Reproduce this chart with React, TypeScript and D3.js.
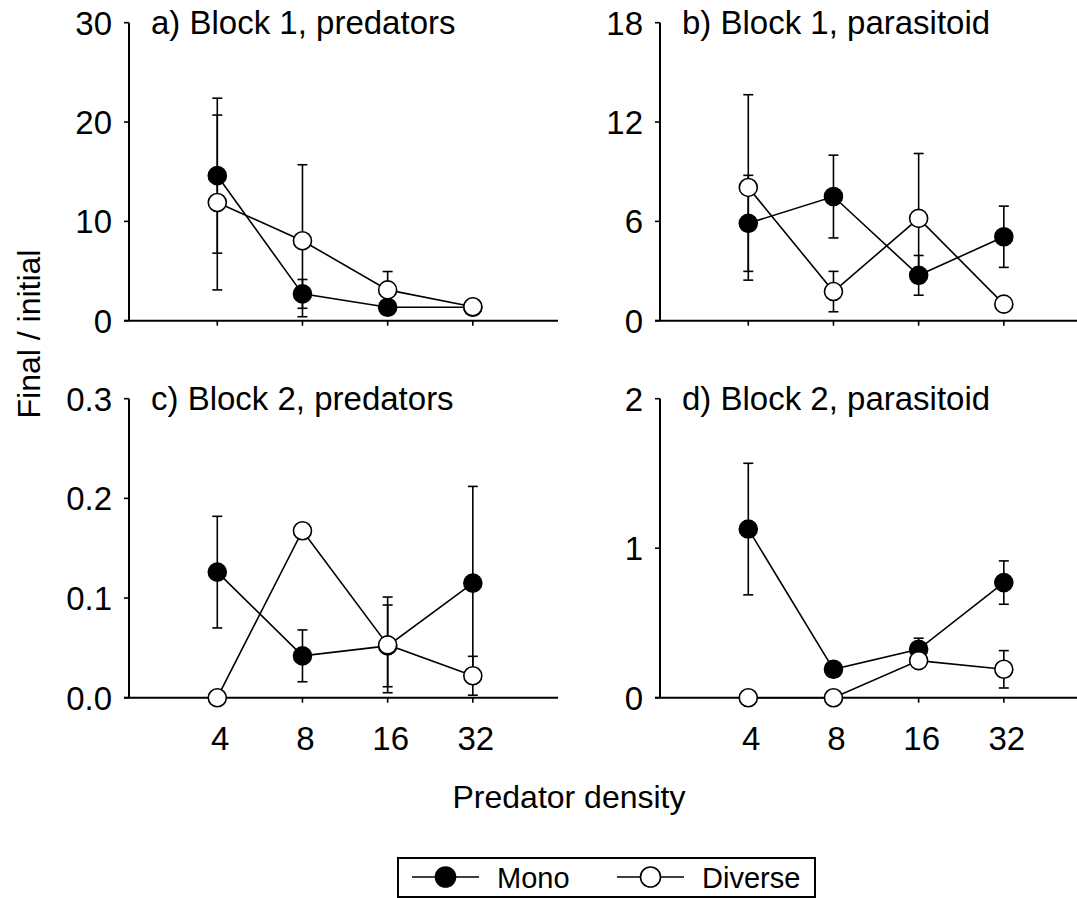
import * as d3 from 'd3';
import React from 'react';

// predator densities on the x axis (log2 spacing)
const densities = [4, 8, 16, 32];
const densityTicks = ['4', '8', '16', '32'];

// panel titles and y ticks
const panelTitles = ['a) Block 1, predators', 'b) Block 1, parasitoid', 'c) Block 2, predators', 'd) Block 2, parasitoid'];
const yTicksA = [0, 10, 20, 30];
const yTicksB = [0, 6, 12, 18];
const yTicksC = [0, 0.1, 0.2, 0.3];
const yTicksD = [0, 1, 2];

// means and standard errors
const monoA = [14.6, 2.7, 1.35, 1.35];
const monoSeA = [7.8, 1.45, 0.3, 0.3];
const diverseA = [11.9, 8.05, 3.1, 1.4];
const diverseSeA = [8.8, 7.65, 1.85, 0.2];

const monoB = [5.88, 7.5, 2.74, 5.07];
const monoSeB = [2.9, 2.5, 1.2, 1.85];
const diverseB = [8.05, 1.76, 6.18, 1.0];
const diverseSeB = [5.6, 1.22, 3.92, 0.2];

const monoC = [0.126, 0.042, 0.052, 0.115];
const monoSeC = [0.056, 0.026, 0.041, 0.097];
const diverseC = [0.0, 0.1675, 0.053, 0.022];
const diverseSeC = [0, 0, 0.048, 0.0195];

const monoD = [1.128, 0.19, 0.324, 0.77];
const monoSeD = [0.44, 0.03, 0.074, 0.145];
const diverseD = [0, 0, 0.248, 0.19];
const diverseSeD = [0, 0, 0.03, 0.125];

const seriesNames = ['Mono', 'Diverse'];

const font = "'Liberation Sans', Arial, sans-serif";

type PanelProps = {
  left: number;
  top: number;
  bottom: number;
  title: string;
  ticks: number[];
  fmt: (v: number) => string;
  mono: number[];
  monoSe: number[];
  diverse: number[];
  diverseSe: number[];
  showX: boolean;
};

const Panel = ({ left, top, bottom, title, ticks, fmt, mono, monoSe, diverse, diverseSe, showX }: PanelProps) => {
  const x = d3.scaleLog().base(2).domain([1.95, 64]).range([left, left + 429]);
  const y = d3.scaleLinear().domain([0, ticks[ticks.length - 1]]).range([bottom, top]);
  const line = d3.line<number>().x((d, i) => x(densities[i])).y(d => y(d));

  const drawSeries = (vals: number[], se: number[], filled: boolean, key: string) => (
    <g key={key}>
      {vals.map((v, i) => se[i] > 0 ? (
        <g key={i} stroke="#000" strokeWidth={1.6}>
          <line x1={x(densities[i])} x2={x(densities[i])} y1={y(Math.max(0, v - se[i]))} y2={y(v + se[i])} />
          <line x1={x(densities[i]) - 5} x2={x(densities[i]) + 5} y1={y(v + se[i])} y2={y(v + se[i])} />
          <line x1={x(densities[i]) - 5} x2={x(densities[i]) + 5} y1={y(Math.max(0, v - se[i]))} y2={y(Math.max(0, v - se[i]))} />
        </g>
      ) : null)}
      <path d={line(vals) || ''} fill="none" stroke="#000" strokeWidth={1.6} />
      {vals.map((v, i) => (
        <circle key={i} cx={x(densities[i])} cy={y(v)} r={9} fill={filled ? '#000' : '#fff'} stroke="#000" strokeWidth={1.6} />
      ))}
    </g>
  );

  return (
    <g fontFamily={font}>
      {/* y axis */}
      <line x1={left} x2={left} y1={y(0)} y2={y(ticks[ticks.length - 1])} stroke="#000" strokeWidth={2} />
      {ticks.map(t => (
        <g key={t}>
          <line x1={left - 5} x2={left} y1={y(t)} y2={y(t)} stroke="#000" strokeWidth={1.6} />
          <text x={left - 17} y={y(t)} dy="0.36em" textAnchor="end" fontSize={33}>{fmt(t)}</text>
        </g>
      ))}
      {/* x axis */}
      <line x1={left - 5} x2={left + 429} y1={y(0)} y2={y(0)} stroke="#000" strokeWidth={2} />
      {densities.map((d, i) => (
        <g key={d}>
          <line x1={x(d)} x2={x(d)} y1={y(0)} y2={y(0) + 5} stroke="#000" strokeWidth={1.6} />
          {showX && (
            <text x={x(d) + 3} y={y(0) + 52} textAnchor="middle" fontSize={33}>{densityTicks[i]}</text>
          )}
        </g>
      ))}
      <text x={left + 22} y={top + 11} fontSize={33}>{title}</text>
      {drawSeries(mono, monoSe, true, 'mono')}
      {drawSeries(diverse, diverseSe, false, 'diverse')}
    </g>
  );
};

const App = () => {
  const f0 = d3.format('d');
  const f1 = d3.format('.1f');
  return (
    <div style={{ position: 'absolute', left: 0, top: 0 }}>
      <svg width={1077} height={898} style={{ display: 'block', background: '#fff' }}>
        <Panel left={129} top={22.7} bottom={320.7} title={panelTitles[0]} ticks={yTicksA} fmt={f0}
          mono={monoA} monoSe={monoSeA} diverse={diverseA} diverseSe={diverseSeA} showX={false} />
        <Panel left={660} top={22.7} bottom={320.7} title={panelTitles[1]} ticks={yTicksB} fmt={f0}
          mono={monoB} monoSe={monoSeB} diverse={diverseB} diverseSe={diverseSeB} showX={false} />
        <Panel left={129} top={398.7} bottom={697.7} title={panelTitles[2]} ticks={yTicksC} fmt={f1}
          mono={monoC} monoSe={monoSeC} diverse={diverseC} diverseSe={diverseSeC} showX={true} />
        <Panel left={660} top={398.7} bottom={697.7} title={panelTitles[3]} ticks={yTicksD} fmt={f0}
          mono={monoD} monoSe={monoSeD} diverse={diverseD} diverseSe={diverseSeD} showX={true} />

        <text transform="translate(40,334) rotate(-90)" textAnchor="middle" fontFamily={font} fontSize={32}>Final / initial</text>
        <text x={569} y={808} textAnchor="middle" fontFamily={font} fontSize={32}>Predator density</text>

        {/* legend */}
        <g fontFamily={font}>
          <rect x={398} y={858} width={417} height={39} fill="#fff" stroke="#000" strokeWidth={2} />
          {seriesNames.map((name, i) => {
            const lx = i === 0 ? 412 : 617;
            return (
              <g key={name}>
                <line x1={lx} x2={lx + 67} y1={877} y2={877} stroke="#000" strokeWidth={1.6} />
                <circle cx={lx + 33.5} cy={877} r={10} fill={i === 0 ? '#000' : '#fff'} stroke="#000" strokeWidth={1.6} />
                <text x={lx + 85} y={888} fontSize={29}>{name}</text>
              </g>
            );
          })}
        </g>
      </svg>
    </div>
  );
};

export default App;
